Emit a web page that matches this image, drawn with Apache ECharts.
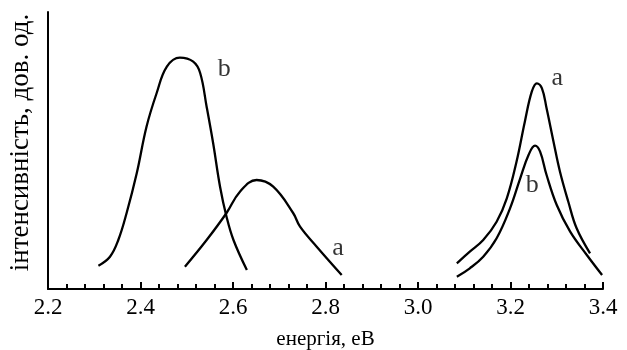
<!DOCTYPE html>
<html>
<head>
<meta charset="utf-8">
<script src="https://cdn.jsdelivr.net/npm/echarts@6/dist/echarts.min.js"></script>
<style>html,body{margin:0;padding:0;background:#fff}#c{width:627px;height:350px}</style>
</head>
<body>
<div id="c"></div>
<script>
// x-axis tick labels
const xTicks = [2.2, 2.4, 2.6, 2.8, 3.0, 3.2, 3.4];
// visible band, curve b
const visB_E = [2.309, 2.334, 2.352, 2.370, 2.392, 2.413, 2.435, 2.457, 2.485, 2.514, 2.529, 2.543, 2.557, 2.572, 2.586, 2.601, 2.630];
const visB_I = [23.3, 32.3, 49, 76, 116, 162.3, 196, 222.3, 231.3, 227.3, 216, 182.3, 146, 102.3, 72.3, 49, 19];
// visible band, curve a
const visA_E = [2.496, 2.543, 2.586, 2.615, 2.651, 2.687, 2.730, 2.745, 2.781, 2.835];
const visA_I = [22.3, 49, 76, 97.3, 109, 102.3, 76, 62.3, 42.3, 14];
// UV band, curve a
const uvA_E = [3.084, 3.112, 3.141, 3.170, 3.192, 3.213, 3.231, 3.246, 3.257, 3.268, 3.278, 3.293, 3.307, 3.325, 3.343, 3.372];
const uvA_I = [25.7, 37.3, 49, 67.3, 90.7, 127.3, 167.3, 197.3, 205.7, 200.7, 180.7, 147.3, 117.3, 87.3, 60.7, 35.7];
// UV band, curve b
const uvB_E = [3.084, 3.112, 3.141, 3.170, 3.199, 3.221, 3.239, 3.253, 3.264, 3.278, 3.300, 3.329, 3.365, 3.398];
const uvB_I = [12.3, 20.7, 32.3, 50.7, 80.7, 110.7, 134, 143.3, 137.3, 114, 84, 57.3, 34, 14];
// curve labels
const curveLabels = ['b', 'a', 'a', 'b'];
const labelE = [2.581, 2.827, 3.301, 3.247];
const labelI = [220, 41, 211, 104];

const zip = (xs, ys) => xs.map((x, i) => [x, ys[i]]);
const font = 'Liberation Serif';
const lineSeries = (d) => ({
  type: 'line', data: d, smooth: 0.4, showSymbol: false, silent: true,
  lineStyle: { color: '#000', width: 2.3 }
});

const chart = echarts.init(document.getElementById('c'), null, { renderer: 'canvas' });
chart.setOption({
  animation: false,
  backgroundColor: '#fff',
  textStyle: { fontFamily: font, color: '#000' },
  grid: { left: 48, right: 24, top: 12, bottom: 61, containLabel: false, outerBoundsMode: 'none' },
  xAxis: {
    type: 'value', min: 2.2, max: 3.4, interval: 0.2,
    name: 'енергія, еВ', nameLocation: 'middle', nameGap: 40,
    nameTextStyle: { fontFamily: font, fontSize: 21, color: '#000' },
    axisLine: { lineStyle: { color: '#000', width: 2 } },
    axisTick: { show: true, inside: true, length: 7, lineStyle: { color: '#000', width: 2 } },
    minorTick: { show: true, splitNumber: 5, length: 5, lineStyle: { color: '#000', width: 2 } },
    splitLine: { show: false },
    axisLabel: {
      fontFamily: font, fontSize: 23, color: '#000', margin: 7,
      formatter: (v) => { const t = xTicks.find(k => Math.abs(k - v) < 1e-6); return t !== undefined ? t.toFixed(1) : ''; }
    }
  },
  yAxis: {
    type: 'value', min: 0, max: 277,
    name: 'інтенсивність, дов. од.', nameLocation: 'middle', nameGap: 14,
    nameTextStyle: { fontFamily: font, fontSize: 27, color: '#000', padding: [0, 0, 0, 16] },
    axisLine: { show: true, lineStyle: { color: '#000', width: 2 } },
    axisTick: { show: false }, axisLabel: { show: false }, splitLine: { show: false }
  },
  series: [
    lineSeries(zip(visB_E, visB_I)),
    lineSeries(zip(visA_E, visA_I)),
    lineSeries(zip(uvA_E, uvA_I)),
    lineSeries(zip(uvB_E, uvB_I)),
    {
      type: 'scatter', symbolSize: 0, silent: true,
      data: labelE.map((e, i) => ({ value: [e, labelI[i]], name: curveLabels[i] })),
      label: { show: true, position: 'inside', formatter: (p) => p.name, fontFamily: font, fontSize: 26, color: '#000' }
    }
  ]
});
</script>
</body>
</html>
